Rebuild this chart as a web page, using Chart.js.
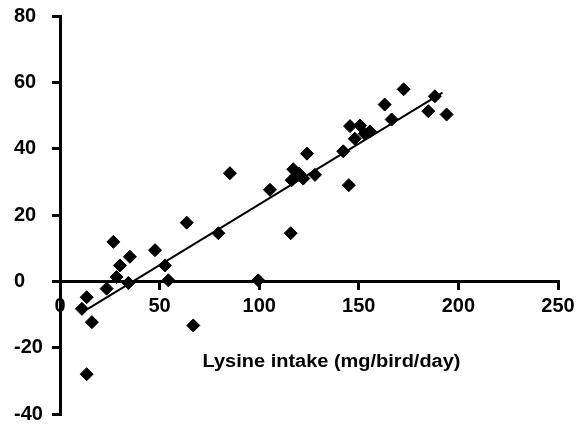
<!DOCTYPE html>
<html>
<head>
<meta charset="utf-8">
<script src="https://cdn.jsdelivr.net/npm/chart.js@4.4.1/dist/chart.umd.min.js"></script>
<style>
  html, body { margin: 0; padding: 0; background: #fff; }
  #wrap { width: 578px; height: 425px; }
</style>
</head>
<body>
<div id="wrap"><canvas id="grafico" width="578" height="425"></canvas></div>
<script>
// lysine intake (mg/bird/day) and response
const lysineIntake = [11, 13.4, 16, 13.4, 23.4, 26.8, 28.4, 30.1, 34.3, 35.1,
  47.7, 52.7, 54.4, 63.6, 66.9, 79.5, 85.3, 99.5, 105.4, 115.8,
  116.3, 117.1, 120, 122.1, 124, 128, 142.2, 145, 145.6, 148,
  150.6, 153, 155.6, 163, 166.5, 172.5, 184.9, 188.2, 194.1];
const response = [-8.3, -4.8, -12.3, -28, -2.2, 11.9, 1.3, 4.8, -0.5, 7.4,
  9.4, 4.8, 0.3, 17.7, -13.3, 14.5, 32.6, 0.3, 27.6, 14.5,
  30.5, 33.8, 32.5, 31, 38.5, 32.1, 39.2, 29, 46.8, 43,
  47, 44.5, 45.2, 53.3, 48.8, 57.9, 51.3, 55.8, 50.3];

// fitted line ends
const fitX = [14, 192];
const fitY = [-8.3, 56.9];

const xTicks = [0, 50, 100, 150, 200, 250];
const yTicks = [-40, -20, 0, 20, 40, 60, 80];
const xTitle = 'Lysine intake (mg/bird/day)';

const fonte = 'Liberation Sans, Arial, Helvetica, sans-serif';

const pontos = lysineIntake.map((x, i) => ({ x: x, y: response[i] }));
const linha = fitX.map((x, i) => ({ x: x, y: fitY[i] }));

// zera o padding automatico das escalas, o layout.padding manda
function semPadding(s) {
  s.paddingTop = 0;
  s.paddingBottom = 0;
  s.paddingLeft = 0;
  s.paddingRight = 0;
}

// axis title sits inside the plot, under the x axis
const tituloX = {
  id: 'tituloX',
  afterDraw(chart) {
    const c = chart.ctx;
    const px = chart.scales.x.getPixelForValue(136.3);
    const py = chart.scales.y.getPixelForValue(-24.2);
    c.save();
    c.font = 'bold 18px ' + fonte;
    c.fillStyle = '#000';
    c.textAlign = 'center';
    c.textBaseline = 'middle';
    c.translate(px, py);
    c.scale(1.11, 1);
    c.fillText(xTitle, 0, 0);
    c.restore();
  }
};

new Chart(document.getElementById('grafico').getContext('2d'), {
  type: 'scatter',
  data: {
    datasets: [
      {
        label: 'data',
        data: pontos,
        pointStyle: 'rectRot',
        pointRadius: 6.5,
        pointBackgroundColor: '#000',
        pointBorderColor: '#000',
        pointBorderWidth: 1,
        showLine: false,
        order: 1
      },
      {
        label: 'fit',
        data: linha,
        showLine: true,
        borderColor: '#000',
        borderWidth: 2,
        pointRadius: 0,
        order: 2
      }
    ]
  },
  options: {
    responsive: false,
    animation: false,
    layout: { padding: { left: 14, right: 20, top: 16, bottom: 11 } },
    plugins: {
      legend: { display: false },
      tooltip: { enabled: false }
    },
    scales: {
      x: {
        type: 'linear',
        position: { y: 0 },
        min: 0,
        max: 250,
        afterBuildTicks: (s) => { s.ticks = xTicks.map(v => ({ value: v })); },
        afterFit: semPadding,
        grid: { drawOnChartArea: false, drawTicks: true, tickLength: 7, color: '#000', lineWidth: 3 },
        border: { display: true, color: '#000', width: 3 },
        ticks: {
          color: '#000',
          padding: 6,
          maxRotation: 0,
          font: { family: fonte, size: 20, weight: 'bold' }
        }
      },
      y: {
        type: 'linear',
        position: 'left',
        min: -40,
        max: 80,
        afterBuildTicks: (s) => { s.ticks = yTicks.map(v => ({ value: v })); },
        afterFit: (s) => { s.width = 46; semPadding(s); },
        grid: { drawOnChartArea: false, drawTicks: true, tickLength: 8, color: '#000', lineWidth: 3 },
        border: { display: true, color: '#000', width: 3 },
        ticks: {
          color: '#000',
          crossAlign: 'far',
          font: { family: fonte, size: 20, weight: 'bold' }
        }
      }
    }
  },
  plugins: [tituloX]
});
</script>
</body>
</html>
